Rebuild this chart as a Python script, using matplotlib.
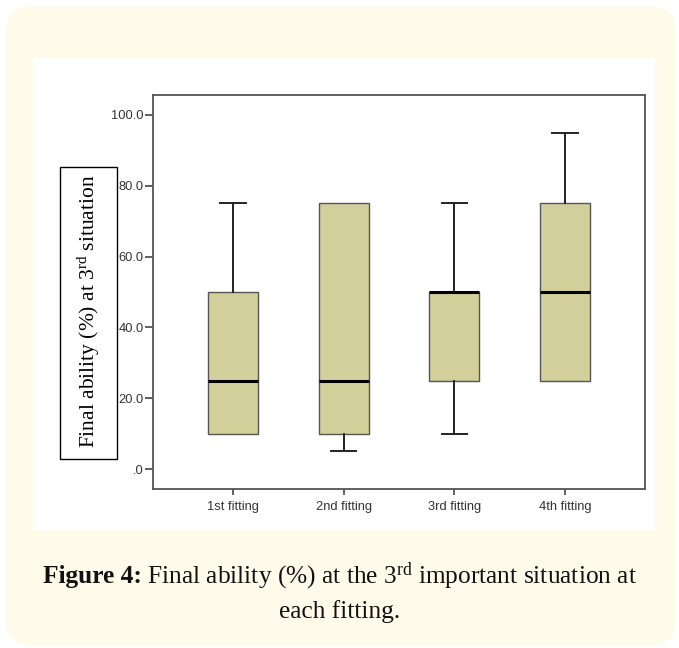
import matplotlib
matplotlib.use("Agg")
import matplotlib.pyplot as plt
from matplotlib.patches import FancyBboxPatch, Rectangle

# ---- data ----
categories = ["1st fitting", "2nd fitting", "3rd fitting", "4th fitting"]
whisker_low = [10, 5, 10, 25]
q1_vals = [10, 10, 25, 25]
medians = [25, 25, 50, 50]
q3_vals = [50, 75, 50, 75]
whisker_high = [75, 75, 75, 95]
yticks = [0, 20, 40, 60, 80, 100]
ytick_labels = [".0", "20.0", "40.0", "60.0", "80.0", "100.0"]

plt.rcParams["mathtext.fontset"] = "custom"
plt.rcParams["mathtext.rm"] = "Liberation Serif"
plt.rcParams["mathtext.it"] = "Liberation Serif:italic"
plt.rcParams["mathtext.bf"] = "Liberation Serif:bold"

W, H = 679, 648
fig = plt.figure(figsize=(W / 100, H / 100), dpi=100, facecolor="white")

def fx(px):
    return px / W

def fy(py):
    return (H - py) / H

# outer cream rounded panel
fig.patches.append(FancyBboxPatch((fx(6), fy(646)), fx(670), (640) / H,
                                  boxstyle="round,pad=0,rounding_size=0.04",
                                  transform=fig.transFigure, facecolor="#fffbea",
                                  edgecolor="none", zorder=0))
# white inner panel
fig.patches.append(Rectangle((fx(33), fy(530)), fx(622), 472 / H,
                             transform=fig.transFigure, facecolor="white",
                             edgecolor="none", zorder=1))

ax = fig.add_axes([fx(153), fy(489), fx(492), (489 - 95) / H])
ax.set_zorder(2)
ax.set_facecolor("white")

stats = []
for i, c in enumerate(categories):
    stats.append(dict(label=c, whislo=whisker_low[i], q1=q1_vals[i],
                      med=medians[i], q3=q3_vals[i], whishi=whisker_high[i],
                      fliers=[]))
positions = list(range(1, len(categories) + 1))
parts = ax.bxp(stats, positions=positions, widths=0.45, patch_artist=True,
               showfliers=False,
               boxprops=dict(facecolor="#d3cf9a", edgecolor="#555555", linewidth=1.0),
               medianprops=dict(color="black", linewidth=2.2),
               whiskerprops=dict(color="#222222", linewidth=1.4),
               capprops=dict(color="#222222", linewidth=1.4),
               capwidths=0.23)
# hide caps of zero-length whiskers
for i in range(len(categories)):
    if whisker_low[i] == q1_vals[i]:
        parts["caps"][2 * i].set_visible(False)
    if whisker_high[i] == q3_vals[i]:
        parts["caps"][2 * i + 1].set_visible(False)

ax.set_xlim(0.28, 4.72)
ax.set_ylim(-5.6, 105.6)
ax.set_yticks(yticks)
ax.set_yticklabels(ytick_labels)
ax.set_xticks(positions)
ax.set_xticklabels(categories)
for s in ax.spines.values():
    s.set_color("#555555")
    s.set_linewidth(1.3)
ax.tick_params(axis="y", direction="out", length=6, width=1.2,
               color="#444444", labelsize=9.3, labelcolor="#333333", pad=0.5)
ax.tick_params(axis="x", direction="out", length=4.5, width=1.2,
               color="#444444", labelsize=9.3, labelcolor="#333333", pad=4)
for lab in ax.get_xticklabels() + ax.get_yticklabels():
    lab.set_fontfamily("Liberation Sans")

# y label in a box
fig.patches.append(Rectangle((fx(60), fy(459)), fx(57), 292 / H,
                             transform=fig.transFigure, facecolor="white",
                             edgecolor="black", linewidth=1.0, zorder=3))
fig.text(fx(88.5), fy(311), r"Final ability (%) at 3$^{\rm rd}$ situation",
         rotation=90, ha="center", va="center", fontsize=15.5,
         fontfamily="Liberation Serif", color="black", zorder=4)

# caption (bold prefix + regular remainder, centred as a whole)
cap_size = 18.3
bold_part = "Figure 4:"
reg_part = r" Final ability (%) at the 3$^{\rm rd}$ important situation at"
renderer = fig.canvas.get_renderer()
t1 = fig.text(0, fy(576), bold_part, ha="left", va="center", fontsize=cap_size,
              fontweight="bold", fontfamily="Liberation Serif", color="#111111")
t2 = fig.text(0, fy(576), reg_part, ha="left", va="center", fontsize=cap_size,
              fontfamily="Liberation Serif", color="#111111")
w1 = t1.get_window_extent(renderer).width
w2 = t2.get_window_extent(renderer).width
x0 = 340 - (w1 + w2) / 2
t1.set_x(x0 / W)
t2.set_x((x0 + w1) / W)
fig.text(fx(340), fy(612), "each fitting.", ha="center", va="center",
         fontsize=cap_size, fontfamily="Liberation Serif", color="#111111")

fig.savefig("out.png", dpi=100, facecolor="white")
